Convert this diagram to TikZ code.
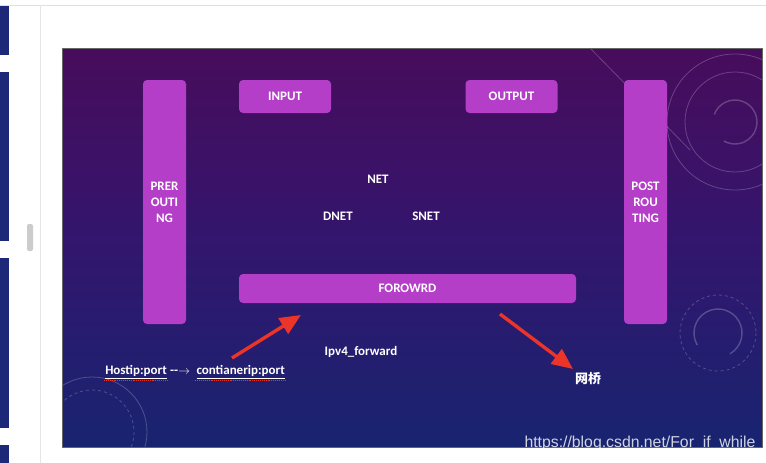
\documentclass[tikz,border=0pt]{standalone}
\usepackage{fontspec}
\setmainfont{Carlito}
\newfontfamily\cjkfont{Noto Sans CJK SC}
\newfontfamily\markfont{Liberation Sans}
\usepackage{tikz}
\usetikzlibrary{positioning,arrows.meta,calc}
\definecolor{colBox}{RGB}{180,62,200}
\definecolor{colTop}{RGB}{72,12,92}
\definecolor{colMid}{RGB}{50,22,110}
\definecolor{colBot}{RGB}{24,36,112}
\definecolor{colArr}{RGB}{236,52,40}
\definecolor{colThumb}{RGB}{30,40,120}

\begin{document}
\begin{tikzpicture}[
  x=1pt, y=-1pt,
  box/.style={
    fill=colBox, rounded corners=4pt, text=white,
    font=\bfseries\fontsize{13}{16}\selectfont,
    align=center, inner sep=0pt
  },
  lbl/.style={text=white, font=\bfseries\fontsize{13}{15}\selectfont, inner sep=1pt},
  deco/.style={draw=white, opacity=0.22, line width=0.8pt},
  redarr/.style={-{Triangle[length=21pt,width=18pt]}, line width=3.4pt, colArr},
  squig/.style={colArr, densely dotted, line width=0.9pt}
]
\useasboundingbox (0,0) rectangle (766,463);
\fill[white] (0,0) rectangle (766,463);
\draw[black!12] (0,5) -- (766,5);
\draw[black!10] (40,5) -- (40,463);

% thumbnails and scroll bar
\fill[colThumb] (0,6) rectangle (9,55);
\fill[colThumb] (0,72) rectangle (9,241);
\fill[colThumb] (0,258) rectangle (9,428);
\fill[colThumb] (0,445) rectangle (9,463);
\fill[black!20, rounded corners=2pt] (27,224) rectangle (33,251);

% slide background
\shade[top color=colTop, bottom color=colBot, middle color=colMid]
  (62,48) rectangle (762,447);
\begin{scope}
  \clip (62,48) rectangle (762,447);
  \draw[deco] (735,122) circle (68);
  \draw[deco] (735,122) circle (50);
  \draw[deco, line width=1.4pt] (735,122) ++(200:22) arc (200:480:22);
  \draw[deco] (590,48) -- (690,150);
  \draw[deco, dashed] (718,333) circle (38);
  \draw[deco, line width=1.4pt] (718,333) ++(150:24) arc (150:420:24);
  \draw[deco] (92,432) circle (55);
  \draw[deco, dashed] (92,432) circle (42);
  \draw[deco] (305,45) ++(200:22) arc (200:340:22);
\end{scope}
\draw[black!60, line width=0.6pt] (62,48) rectangle (762,447);

% chains
\node[box, minimum width=43pt, minimum height=244pt] (pre) at (164.5,202)
  {PRER\\OUTI\\NG};
\node[box, minimum width=92pt, minimum height=33pt] (input) at (285,96.5)
  {INPUT};
\node[box, minimum width=92pt, minimum height=33pt] (output) at (511.5,96.5)
  {OUTPUT};
\node[box, minimum width=43pt, minimum height=244pt] (post) at (645.5,202)
  {POST\\ROU\\TING};
\node[box, minimum width=337pt, minimum height=29pt] (fwd) at (407.5,288.5)
  {FOROWRD};

% tables
\node[lbl] (net) at (378,179) {NET};
\node[lbl] (dnet) at (338,216) {DNET};
\node[lbl] (snet) at (426,216) {SNET};

% notes
\node[lbl] (ipv4) at (361,352) {Ipv4\_forward};
\node[lbl] (host) at (136,372) {\underline{Hostip:port}};
\node[lbl, right=1pt of host] (dash) {-{}-$\rightarrow$};
\node[lbl, right=4pt of dash] (cont) {\underline{contianerip:port}};
\node[lbl, font=\cjkfont\bfseries\fontsize{13}{15}\selectfont] (bridge) at (588,379)
  {网桥};

\draw[squig] ([yshift=-1pt]host.south west) -- ([yshift=-1pt]host.south east);
\draw[squig] ([yshift=-1pt]cont.south west) -- ([yshift=-1pt]cont.south east);

% red arrows
\coordinate (tailA) at (232,358);
\coordinate (headA) at (301,315);
\coordinate (tailB) at (500,314);
\coordinate (headB) at (573,369);
\draw[redarr] (tailA) -- (headA);
\draw[redarr] (tailB) -- (headB);

\node[text=white, opacity=0.8, font=\markfont\fontsize{15.8}{18}\selectfont]
  (mark) at (640,443) {https://blog.csdn.net/For\_if\_while};

\end{tikzpicture}
\end{document}
